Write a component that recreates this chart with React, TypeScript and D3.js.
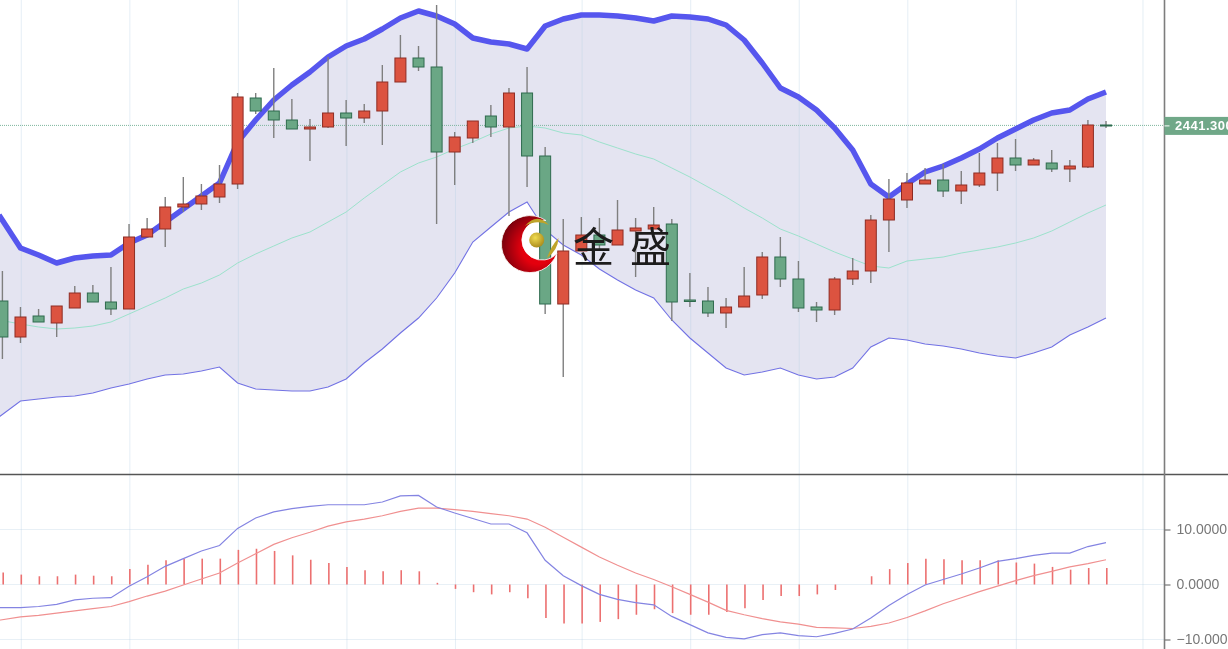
import React, { useEffect, useRef } from 'react'
import { axisRight, line, area, scaleLinear, select } from 'd3'

const WIDTH = 1228
const HEIGHT = 649
const AXIS_X = 1164.5
const PANEL_BOTTOM = 474.5

const lastPrice = 2441.3
const lastPriceLabel = '2441.300'

const opens = [2353.5,2335.5,2346,2342.5,2350,2357.5,2353,2349.5,2385.5,2389.5,2400.5,2402,2405.5,2412,2455,2448.5,2444,2439.5,2440.5,2447.5,2445,2448.5,2463,2475,2470.5,2428,2435,2446,2440.5,2457.5,2426,2352,2378.5,2386.5,2381.5,2388.5,2389.5,2392,2354,2353.5,2347.5,2350.5,2356.5,2375.5,2364.5,2350.5,2349,2364.5,2368.5,2394,2404,2412,2414,2408.5,2411.5,2417.5,2425,2421.5,2422.5,2419.5,2420.5,2441.5]
const closes = [2335.5,2345.5,2343,2351,2357.5,2353,2349.5,2385.5,2389.5,2400.5,2402,2406,2412,2455.5,2448.5,2444,2439.5,2440.5,2447.5,2445,2448.5,2463,2475,2470.5,2428,2435.5,2443.5,2440.5,2457.5,2426,2352,2378.5,2386.5,2381.5,2389,2390,2391.5,2353,2353.25,2347.5,2350.5,2356,2375.5,2364.5,2350,2349,2364.5,2368.5,2394,2404.5,2412.5,2414,2408.5,2411.5,2417.5,2425,2421.5,2424,2419.5,2421,2441.5,2441]
const highs = [2368.5,2350.5,2349.5,2351,2361,2361.5,2370.5,2392,2395,2405.5,2415.5,2412,2421.5,2457.5,2457.5,2470,2454.5,2444.5,2475.5,2454,2452,2471.5,2486.5,2481,2501.5,2438,2443.5,2451.5,2460,2470.5,2430.5,2394.5,2395.5,2395,2404,2395,2400.5,2394.5,2367.5,2360.5,2355,2370.5,2378,2385.5,2373.5,2353,2365.5,2375,2396.5,2414.5,2417.5,2420,2422,2418.5,2427.5,2432.5,2434.5,2425,2429,2424,2444,2443.5]
const lows = [2324.5,2332.5,2343,2335.5,2350,2353,2346.5,2349.5,2385.5,2380.5,2398,2399,2402.5,2409.5,2447,2435,2439.5,2423.5,2440,2431,2442.5,2431.5,2463,2468.5,2392,2411.5,2432.5,2435.5,2396,2410.5,2347,2315.5,2378.5,2379,2381.5,2365.5,2389.5,2343.5,2350.5,2345.5,2340,2350.5,2354.5,2360.5,2348,2343,2346.5,2361.5,2362.5,2378,2400,2412,2405.5,2402,2410.5,2408.5,2418.5,2421.5,2418,2413,2420,2440]

const bollUpper = [2396.5,2380,2376.5,2372.5,2375,2376,2376.5,2382.5,2386.5,2393,2399.5,2406,2412.5,2433,2444,2454,2461.5,2468,2475.5,2481,2484.5,2489.5,2495,2498.5,2496,2492,2485,2483,2482,2479.5,2491,2494.5,2496.5,2496.5,2496,2495,2493.5,2496,2495.5,2494.5,2491.5,2484,2472.5,2460,2455.5,2449,2440,2429,2412,2405.5,2412,2418,2421,2425,2429.5,2435,2439.5,2444,2447.5,2449,2454.5,2458]
const bollMiddle = [2344,2342,2340.5,2339.5,2340,2341,2343,2347,2351,2355,2359.5,2362.5,2366.5,2372.5,2377,2381,2385,2388,2393,2398,2405,2411.5,2418,2422.5,2425.5,2429.5,2433,2437,2440,2441,2440,2437.5,2436.5,2433,2430,2427,2424.5,2420,2415.5,2410.5,2405.5,2400,2395,2389.5,2386,2382,2378,2374.5,2371,2370,2373.5,2374.5,2375.5,2377.5,2379,2380.5,2382.5,2385,2388.5,2393,2397.5,2401.5]
const bollLower = [2295.5,2303.5,2304.5,2305.5,2306,2307.5,2310,2312,2314.5,2316.5,2317,2318.5,2320.5,2312.5,2309.5,2309,2308.5,2308.5,2310.5,2314.5,2322.5,2329.5,2337.5,2345,2355,2367.5,2383,2390.5,2398,2403,2389,2381.5,2376.5,2369.5,2364,2359,2355,2344,2335,2327.5,2320,2316.5,2318,2320,2316.5,2314.5,2315.5,2320,2330.5,2335,2334,2332,2331,2329.5,2327.5,2326,2325,2327.5,2330.5,2336.5,2340.5,2345]

const macdDif = [-4.2,-4.2,-4,-3.6,-2.8,-2.5,-2.4,-0.3,1.4,3.3,4.7,6.1,7.1,10.2,12.1,13.2,13.8,14.2,14.5,14.5,14.5,15,16.1,16.2,14.1,13,12,11,11,9.4,4.4,1.6,-0.2,-1.8,-2.7,-3.3,-3.7,-5.8,-7.3,-8.8,-9.6,-9.9,-9.1,-8.8,-9.3,-9.5,-8.9,-8.1,-6.1,-3.8,-1.8,-0.1,0.9,1.9,3,4.2,4.7,5.3,5.7,5.7,6.9,7.6]
const macdDea = [-6.5,-5.9,-5.6,-5.2,-4.8,-4.4,-4,-3.1,-2.1,-1.2,-0.1,1,2.1,3.9,5.6,7.3,8.5,9.5,10.6,11.4,11.9,12.5,13.3,13.9,13.9,13.6,13.3,12.9,12.5,11.9,10.4,8.6,6.8,5,3.5,2.1,0.9,-0.4,-1.8,-3.2,-4.7,-5.5,-6.2,-6.8,-7.2,-7.8,-7.9,-8,-7.6,-7,-6,-4.8,-3.5,-2.4,-1.3,-0.3,0.7,1.6,2.4,3.2,3.8,4.5]
const macdHist = [2.2,1.8,1.5,1.5,1.8,1.6,1.5,2.8,3.6,4.4,4.7,4.7,4.7,6.3,6.5,6.1,5.3,4.5,3.9,3.2,2.6,2.4,2.6,2.4,0.3,-0.8,-1.4,-1.8,-1.4,-2.5,-6.1,-7.1,-7.1,-6.8,-6.3,-5.5,-4.5,-5.2,-5.5,-5.5,-5,-4.3,-2.8,-2.1,-2.1,-1.8,-1,0,1.5,2.8,3.9,4.7,4.6,4.4,4.4,4.4,4,3.8,3.2,2.7,3,3]

const gridTicks = [1, 7, 13, 19, 25, 32, 38, 44, 50, 56, 63]
const macdTicks = [-10, 0, 10]

const x = scaleLinear().domain([0, 61]).range([2.4, 1106])
const yPrice = scaleLinear().domain([2504, 2267]).range([0, 474])
const yMacd = scaleLinear().domain([-10, 10]).range([639.5, 529.5])

// the series run on past the left edge, so the first point is pulled out to it
const lineX = (i: number) => (i === 0 ? -1 : x(i))

const indexLine = (values: number[], y: (v: number) => number) =>
  line<number>().x((_, i) => lineX(i)).y(v => y(v))(values) ?? ''

const bandArea = area<number>()
  .x((_, i) => lineX(i))
  .y0((_, i) => yPrice(bollLower[i]))
  .y1(v => yPrice(v))

const BODY_W = 11

const Logo = () => (
  <g>
    <defs>
      <radialGradient id="moon" gradientUnits="userSpaceOnUse" cx="538" cy="248" r="36">
        <stop offset="0.45" stopColor="#e4000f" />
        <stop offset="1" stopColor="#7d0508" />
      </radialGradient>
      <radialGradient id="ball" cx="0.4" cy="0.35" r="0.7">
        <stop offset="0" stopColor="#f0dc50" />
        <stop offset="1" stopColor="#a8881a" />
      </radialGradient>
    </defs>
    <path d="M545.9 220.5A28.5 28.5 0 1 0 556.9 253.3A20 20 0 1 1 545.9 220.5Z" fill="url(#moon)" stroke="#fff" strokeWidth={0.8} />
    <path d="M525 226Q537 212 549 225Q537 219 525 226Z" fill="#bfa42a" />
    <path d="M547 258Q558 250 558.5 238Q551 246 547 258Z" fill="#bfa42a" />
    <circle cx={536.7} cy={240} r={7.5} fill="url(#ball)" />
    <g fontFamily='"Noto Sans CJK SC"' fontSize={41} fontWeight={400} fill="#1d1a1a">
      <text x={573} y={262}>金</text>
      <text x={630} y={262}>盛</text>
    </g>
  </g>
)

export default function App() {
  const axisRef = useRef<SVGGElement>(null)

  useEffect(() => {
    if (axisRef.current === null) {
      return
    }
    const yAxis = axisRight(yMacd)
      .tickValues(macdTicks)
      .tickSize(6)
      .tickPadding(6)
      .tickFormat(d => (+d).toFixed(4).replace('-', '\u2212'))
    const g = select(axisRef.current).call(yAxis)
    g.select('.domain').remove()
    g.selectAll('line').attr('stroke', '#777').attr('stroke-width', 1.2)
    g.selectAll('text')
      .attr('fill', '#777')
      .attr('font-size', 14)
      .attr('font-family', '"Liberation Sans", Arial, sans-serif')
  }, [])

  return (
    <svg
      width={WIDTH}
      height={HEIGHT}
      viewBox={`0 0 ${WIDTH} ${HEIGHT}`}
      style={{ position: 'absolute', left: 0, top: 0, display: 'block', background: '#fff' }}
    >
      <defs>
        <filter id="soft" x="0" y="0" width="100%" height="100%">
          <feGaussianBlur stdDeviation={0.35} />
        </filter>
      </defs>
      <g filter="url(#soft)">
        {/* band sits under the grid */}
        <path d={bandArea(bollUpper) ?? ''} fill="#e4e4f1" />

        {gridTicks.map(t => (
          <line key={t} x1={x(t) + 0.8} x2={x(t) + 0.8} y1={0} y2={HEIGHT} stroke="#b4cde1" strokeOpacity={0.35} />
        ))}
        {macdTicks.map(t => (
          <line key={t} x1={0} x2={AXIS_X} y1={yMacd(t)} y2={yMacd(t)} stroke="#b4cde1" strokeOpacity={0.3} />
        ))}

        <line x1={0} x2={AXIS_X} y1={yPrice(lastPrice)} y2={yPrice(lastPrice)} stroke="#7db69c" strokeDasharray="1 1" />

        <path d={indexLine(bollMiddle, yPrice)} fill="none" stroke="#9ce2cc" strokeWidth={1} />
        <path d={indexLine(bollLower, yPrice)} fill="none" stroke="#7272e4" strokeWidth={1.1} />
        <path d={indexLine(bollUpper, yPrice)} fill="none" stroke="#5656ee" strokeWidth={5.5} strokeLinejoin="round" />

        {opens.map((o, i) => {
          const c = closes[i]
          const up = c >= o
          const top = yPrice(Math.max(o, c))
          const bottom = yPrice(Math.min(o, c))
          return (
            <g key={i}>
              <line x1={x(i)} x2={x(i)} y1={yPrice(highs[i])} y2={yPrice(lows[i])} stroke="#7f7f7f" strokeWidth={1.4} />
              <rect
                x={x(i) - BODY_W / 2}
                y={top}
                width={BODY_W}
                height={Math.max(bottom - top, 1)}
                fill={up ? '#dc5340' : '#6aa785'}
                stroke={up ? '#8e2c24' : '#2f6b4e'}
                strokeWidth={1}
              />
            </g>
          )
        })}

        <Logo />

        {macdHist.map((v, i) => (
          <line
            key={i}
            x1={x(i) + 0.8}
            x2={x(i) + 0.8}
            y1={yMacd(0)}
            y2={yMacd(v)}
            stroke="#ec7070"
            strokeWidth={1.6}
          />
        ))}
        <path d={indexLine(macdDea, yMacd)} fill="none" stroke="#f09090" strokeWidth={1.2} />
        <path d={indexLine(macdDif, yMacd)} fill="none" stroke="#8484e2" strokeWidth={1.2} />

        <line x1={0} x2={WIDTH} y1={PANEL_BOTTOM} y2={PANEL_BOTTOM} stroke="#555" strokeWidth={1.5} />
        <line x1={AXIS_X} x2={AXIS_X} y1={0} y2={HEIGHT} stroke="#7d7d7d" strokeWidth={1.6} />

        <g ref={axisRef} transform={`translate(${AXIS_X},0)`} />

        <rect x={AXIS_X} y={yPrice(lastPrice) - 8.5} width={WIDTH - AXIS_X} height={18} fill="#6fa888" />
        <line x1={AXIS_X} x2={AXIS_X + 5} y1={yPrice(lastPrice) + 0.5} y2={yPrice(lastPrice) + 0.5} stroke="#fff" />
        <text
          x={1175}
          y={yPrice(lastPrice) + 5}
          fill="#fff"
          fontSize={13}
          fontWeight={700}
          letterSpacing={0.5}
          fontFamily='"Liberation Sans", Arial, sans-serif'
        >
          {lastPriceLabel}
        </text>
      </g>
    </svg>
  )
}
